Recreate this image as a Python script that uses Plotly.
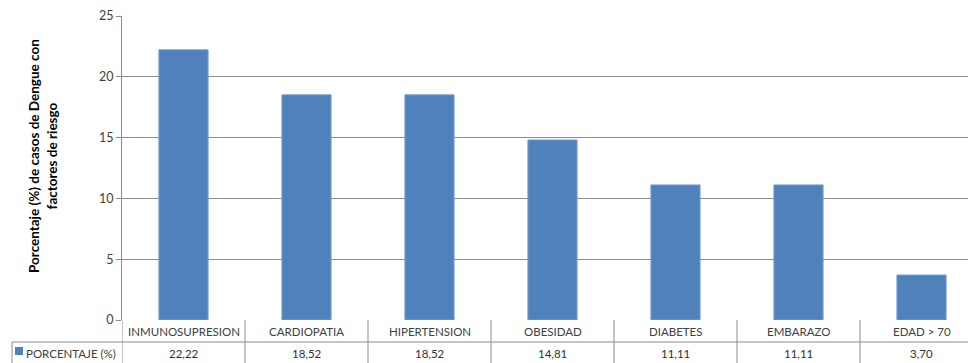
import plotly.graph_objects as go

# Risk factors and percentage of dengue cases
categorias = ["INMUNOSUPRESION", "CARDIOPATIA", "HIPERTENSION", "OBESIDAD",
              "DIABETES", "EMBARAZO", "EDAD > 70"]
porcentaje = [22.22, 18.52, 18.52, 14.81, 11.11, 11.11, 3.70]
serie = "PORCENTAJE (%)"
y_ticks = [0, 5, 10, 15, 20, 25]

W, H = 968, 363
ML, MR, MT, MB = 122, 0, 16, 43
X0, X1 = -0.5, 6.378
plot_h = H - MT - MB
plot_w = W - ML - MR

FONT = "Lato"
BLUE = "#4F81BD"
GRID = "#8C8C8C"
TEXT = "#404040"

x_idx = list(range(len(categorias)))

fig = go.Figure()
fig.add_trace(go.Bar(
    x=x_idx, y=porcentaje, width=0.4,
    marker=dict(color=BLUE, line=dict(color="#7EA1CE", width=1)),
    name=serie, showlegend=False,
))


def py(px_below):
    """Paper y for a pixel offset below the plot bottom."""
    return -px_below / plot_h


def pxp(px):
    """Paper x for an absolute pixel x."""
    return (px - ML) / plot_w


shapes = []
# data-table rows
shapes.append(dict(type="line", xref="paper", yref="paper",
                   x0=pxp(12), x1=1, y0=py(22), y1=py(22),
                   line=dict(color=GRID, width=1)))
shapes.append(dict(type="line", xref="paper", yref="paper",
                   x0=pxp(12), x1=pxp(12), y0=py(22), y1=py(45),
                   line=dict(color=GRID, width=1)))
# column separators between categories
for k in range(len(categorias)):
    b = k - 0.5
    shapes.append(dict(type="line", xref="x", yref="paper",
                       x0=b, x1=b, y0=0, y1=py(45),
                       line=dict(color=GRID, width=1)))
# legend key in the table
shapes.append(dict(type="rect", xref="paper", yref="paper",
                   x0=pxp(15), x1=pxp(23), y0=py(27), y1=py(35),
                   fillcolor=BLUE, line=dict(width=0)))

annotations = []
for k, (c, v) in enumerate(zip(categorias, porcentaje)):
    annotations.append(dict(x=k, y=0, xref="x", yref="paper", text=c,
                            showarrow=False, yanchor="middle", yshift=-11,
                            font=dict(family=FONT, size=11.5, color=TEXT)))
    annotations.append(dict(x=k, y=0, xref="x", yref="paper",
                            text=f"{v:.2f}".replace(".", ","),
                            showarrow=False, yanchor="middle", yshift=-33,
                            font=dict(family=FONT, size=11.5, color="#303030")))
annotations.append(dict(x=pxp(24), y=0, xref="paper", yref="paper", text=serie,
                        showarrow=False, xanchor="left", yanchor="middle",
                        yshift=-33, font=dict(family=FONT, size=11.5, color=TEXT)))
# rotated axis title
annotations.append(dict(x=pxp(43), y=1 - (156 - MT) / plot_h, xref="paper", yref="paper",
                        text="<b>Porcentaje (%) de casos de Dengue con<br>factores de riesgo</b>",
                        showarrow=False, textangle=-90, xanchor="center", yanchor="middle",
                        font=dict(family=FONT, size=13.5, color="#000000")))

fig.update_layout(
    width=W, height=H,
    margin=dict(l=ML, r=MR, t=MT, b=MB),
    paper_bgcolor="white", plot_bgcolor="white",
    bargap=0.6,
    shapes=shapes, annotations=annotations,
    xaxis=dict(range=[X0, X1], showticklabels=False, showgrid=False,
               zeroline=False, ticks="", showline=False, fixedrange=True),
    yaxis=dict(range=[0, 25], tickvals=y_ticks, showgrid=True, gridcolor=GRID,
               gridwidth=1, zeroline=False, showline=True, linecolor=GRID,
               linewidth=1, ticks="outside", ticklen=5, tickcolor=GRID,
               tickfont=dict(family=FONT, size=12.5, color=TEXT)),
    font=dict(family=FONT),
)

fig.write_html("out.html")
